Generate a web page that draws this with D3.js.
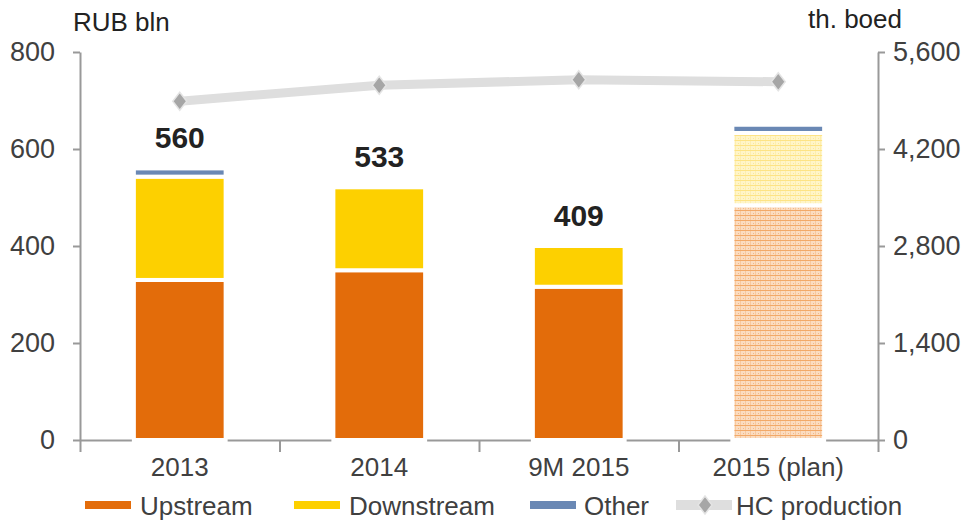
<!DOCTYPE html>
<html>
<head>
<meta charset="utf-8">
<script src="https://cdn.jsdelivr.net/npm/d3@7"></script>
<style>
  body { margin: 0; background: #fff; }
  text { font-family: "Liberation Sans", Arial, sans-serif; }
  .axis path, .axis line { stroke: #999; stroke-width: 2; }
  .axis text { font-size: 27px; fill: #404040; }
  .xlab text { font-size: 26px; }
</style>
</head>
<body>
<script>
// Daten
var categories = ["2013", "2014", "9M 2015", "2015 (plan)"];
var upstream   = [330, 350, 316, 484];
var downstream = [213, 171, 84, 149];
var other      = [17, 0, 0, 17];
var totals     = ["560", "533", "409", ""];
var hcProd     = [4890, 5120, 5200, 5170];   // th. boed
var leftTicks  = [0, 200, 400, 600, 800];
var rightTicks = [0, 1400, 2800, 4200, 5600];

var W = 969, H = 521;
var x0 = 80, x1 = 878, yTop = 52, yBase = 440;

var svg = d3.select("body").append("svg")
  .attr("width", W).attr("height", H);

// Muster für Plan-Balken
var defs = svg.append("defs");
function pattern(id, bg, line, dot) {
  var p = defs.append("pattern").attr("id", id)
    .attr("patternUnits", "userSpaceOnUse").attr("width", 5).attr("height", 5);
  p.append("rect").attr("width", 5).attr("height", 5).attr("fill", bg);
  p.append("rect").attr("y", 0).attr("width", 5).attr("height", 1).attr("fill", line);
  p.append("rect").attr("x", 0).attr("width", 1).attr("height", 5).attr("fill", line).attr("opacity", 0.4);
  p.append("rect").attr("x", 3).attr("y", 3).attr("width", 1).attr("height", 1).attr("fill", dot);
}
pattern("patUp", "#fbdcc0", "#f2a968", "#f4b887");
pattern("patDown", "#fff5c8", "#fde385", "#fde79a");

// Skalen
var x = d3.scaleBand().domain(categories).range([x0, x1])
  .paddingInner(0.54).paddingOuter(0.27);
var y = d3.scaleLinear().domain([0, 800]).range([yBase, yTop]);
var y2 = d3.scaleLinear().domain([0, 5600]).range([yBase, yTop]);
var xb = d3.scaleLinear().domain([0, 4]).range([x0, x1]);

// Achsen
svg.append("g").attr("class", "axis")
  .attr("transform", "translate(" + x0 + ",0)")
  .call(d3.axisLeft(y).tickValues(leftTicks).tickSize(7).tickPadding(18).tickSizeOuter(0));
svg.append("g").attr("class", "axis")
  .attr("transform", "translate(" + x1 + ",0)")
  .call(d3.axisRight(y2).tickValues(rightTicks).tickSize(7).tickPadding(8).tickSizeOuter(0)
    .tickFormat(d3.format(",")));
svg.append("g").attr("class", "axis")
  .attr("transform", "translate(0," + yBase + ")")
  .call(d3.axisBottom(xb).tickValues([0, 1, 2, 3, 4]).tickSize(12).tickSizeOuter(0).tickFormat(""));
svg.append("g").attr("class", "axis xlab")
  .attr("transform", "translate(0," + yBase + ")")
  .call(d3.axisBottom(x).tickSize(0).tickPadding(18))
  .call(function (g) { g.select(".domain").remove(); });

// Achsentitel
svg.append("text").attr("x", 73).attr("y", 31).attr("font-size", 26).attr("fill", "#222").text("RUB bln");
svg.append("text").attr("x", 808).attr("y", 28).attr("font-size", 26).attr("fill", "#222").text("th. boed");

// Stapel
var rows = categories.map(function (c, i) {
  return { cat: c, i: i, upstream: upstream[i], downstream: downstream[i], other: other[i] };
});
var stack = d3.stack().keys(["upstream", "downstream", "other"])(rows);
var colors = { upstream: "#e36c0a", downstream: "#fdd000", other: "#6a88b4" };

stack.forEach(function (layer) {
  svg.append("g").selectAll("rect")
    .data(layer.filter(function (d) { return d[1] > d[0]; }))
    .enter().append("rect")
    .attr("x", function (d) { return x(d.data.cat); })
    .attr("width", x.bandwidth())
    .attr("y", function (d) { return y(d[1]); })
    .attr("height", function (d) { return y(d[0]) - y(d[1]); })
    .attr("fill", function (d) {
      if (d.data.i === 3 && layer.key === "upstream") return "url(#patUp)";
      if (d.data.i === 3 && layer.key === "downstream") return "url(#patDown)";
      return colors[layer.key];
    })
    .attr("stroke", "#fff").attr("stroke-width", 4);
});

// Summen
svg.append("g").selectAll("text")
  .data(rows.filter(function (d) { return totals[d.i] !== ""; }))
  .enter().append("text")
  .attr("x", function (d) { return x(d.cat) + x.bandwidth() / 2; })
  .attr("y", function (d) { return y(d.upstream + d.downstream + d.other) - 20; })
  .attr("text-anchor", "middle")
  .attr("font-size", 30).attr("font-weight", "bold").attr("fill", "#222")
  .text(function (d) { return totals[d.i]; });

// HC-Förderung
var cx = function (d, i) { return x(categories[i]) + x.bandwidth() / 2; };
var line = d3.line().x(cx).y(function (d) { return y2(d); });
svg.append("path").datum(hcProd)
  .attr("d", line).attr("fill", "none")
  .attr("stroke", "#dedede").attr("stroke-width", 9);
var diamond = "M0,-9L7,0L0,9L-7,0Z";
svg.append("g").selectAll("path")
  .data(hcProd).enter().append("path")
  .attr("d", diamond)
  .attr("transform", function (d, i) { return "translate(" + cx(d, i) + "," + y2(d) + ")"; })
  .attr("fill", "#a6a6a6").attr("stroke", "#e4e4e4").attr("stroke-width", 1.5);

// Legende
var legend = [
  { name: "Upstream", color: "#e36c0a", sx: 85, tx: 140 },
  { name: "Downstream", color: "#fdd000", sx: 294, tx: 349 },
  { name: "Other", color: "#6a88b4", sx: 530, tx: 584 },
  { name: "HC production", color: "#dedede", sx: 676, tx: 736, hc: true }
];
var ly = 505;
var lg = svg.append("g");
legend.forEach(function (l) {
  lg.append("line")
    .attr("x1", l.sx).attr("x2", l.hc ? l.sx + 56 : l.sx + 46)
    .attr("y1", ly).attr("y2", ly)
    .attr("stroke", l.color).attr("stroke-width", l.hc ? 10 : 8);
  if (l.hc) {
    lg.append("path").attr("d", diamond)
      .attr("transform", "translate(" + (l.sx + 29) + "," + ly + ")")
      .attr("fill", "#a6a6a6").attr("stroke", "#e4e4e4").attr("stroke-width", 1.5);
  }
  lg.append("text").attr("x", l.tx).attr("y", ly + 10)
    .attr("font-size", 26).attr("fill", "#404040").text(l.name);
});
</script>
</body>
</html>
